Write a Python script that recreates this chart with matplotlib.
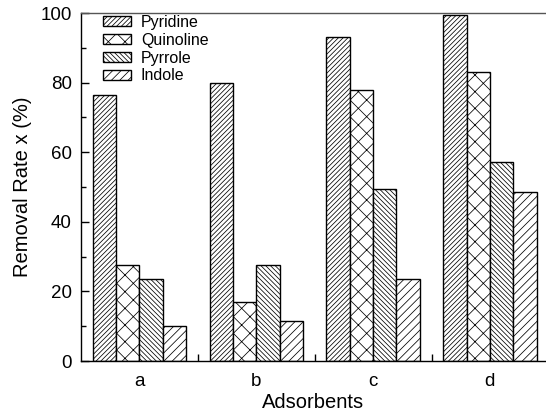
import numpy as np
import matplotlib
matplotlib.use("Agg")
import matplotlib.pyplot as plt
from matplotlib.ticker import MultipleLocator, FixedLocator

# data
adsorbents = ["a", "b", "c", "d"]
pyridine = [76.5, 80, 93, 99.5]
quinoline = [27.5, 17, 78, 83]
pyrrole = [23.7, 27.6, 49.4, 57.3]
indole = [10, 11.5, 23.7, 48.7]

series_names = ["Pyridine", "Quinoline", "Pyrrole", "Indole"]
hatches = ["///////", "xx", "\\\\\\\\\\\\\\", "////"]

BAR_WIDTH = 0.2

plt.rcParams["font.family"] = ["Liberation Sans", "DejaVu Sans"]
plt.rcParams["hatch.linewidth"] = 0.55
plt.rcParams["hatch.color"] = "#3a3a3a"

fig = plt.figure(figsize=(5.46, 4.18), dpi=100)
ax = fig.add_axes([81 / 546, 57 / 418, 465 / 546, 348 / 418])

x = np.arange(len(adsorbents))
all_series = [pyridine, quinoline, pyrrole, indole]
for i, (vals, name, h) in enumerate(zip(all_series, series_names, hatches)):
    offset = (i - 1.5) * BAR_WIDTH
    ax.bar(x + offset, vals, BAR_WIDTH, facecolor="white", edgecolor="black",
           linewidth=1.0, hatch=h, label=name)

ax.set_xlim(-0.5, 3.48)
ax.set_ylim(0, 100)
ax.spines["right"].set_visible(False)
for s in ["left", "bottom", "top"]:
    ax.spines[s].set_linewidth(1.0)
ax.spines["top"].set_color("#555555")

ax.set_xticks(x)
ax.set_xticklabels(adsorbents)
ax.xaxis.set_minor_locator(FixedLocator([0.5, 1.5, 2.5]))
ax.tick_params(axis="x", which="major", length=0, pad=9, labelsize=13.5)
ax.tick_params(axis="x", which="minor", direction="in", length=5, width=1)

ax.yaxis.set_major_locator(MultipleLocator(20))
ax.yaxis.set_minor_locator(MultipleLocator(10))
ax.tick_params(axis="y", which="major", direction="in", length=6, width=1,
               labelsize=13.5, pad=6.5)
ax.tick_params(axis="y", which="minor", direction="in", length=3.5, width=1)

ax.set_xlabel("Adsorbents", fontsize=14.5, labelpad=2)
ax.set_ylabel("Removal Rate x (%)", fontsize=14.5, labelpad=6)

ax.legend(loc="upper left", bbox_to_anchor=(0.024, 1.027), frameon=False,
          fontsize=11.5, handlelength=1.75, handleheight=0.6, labelspacing=0.18,
          handletextpad=0.6, borderpad=0.2)

fig.savefig("out.png", dpi=100)
